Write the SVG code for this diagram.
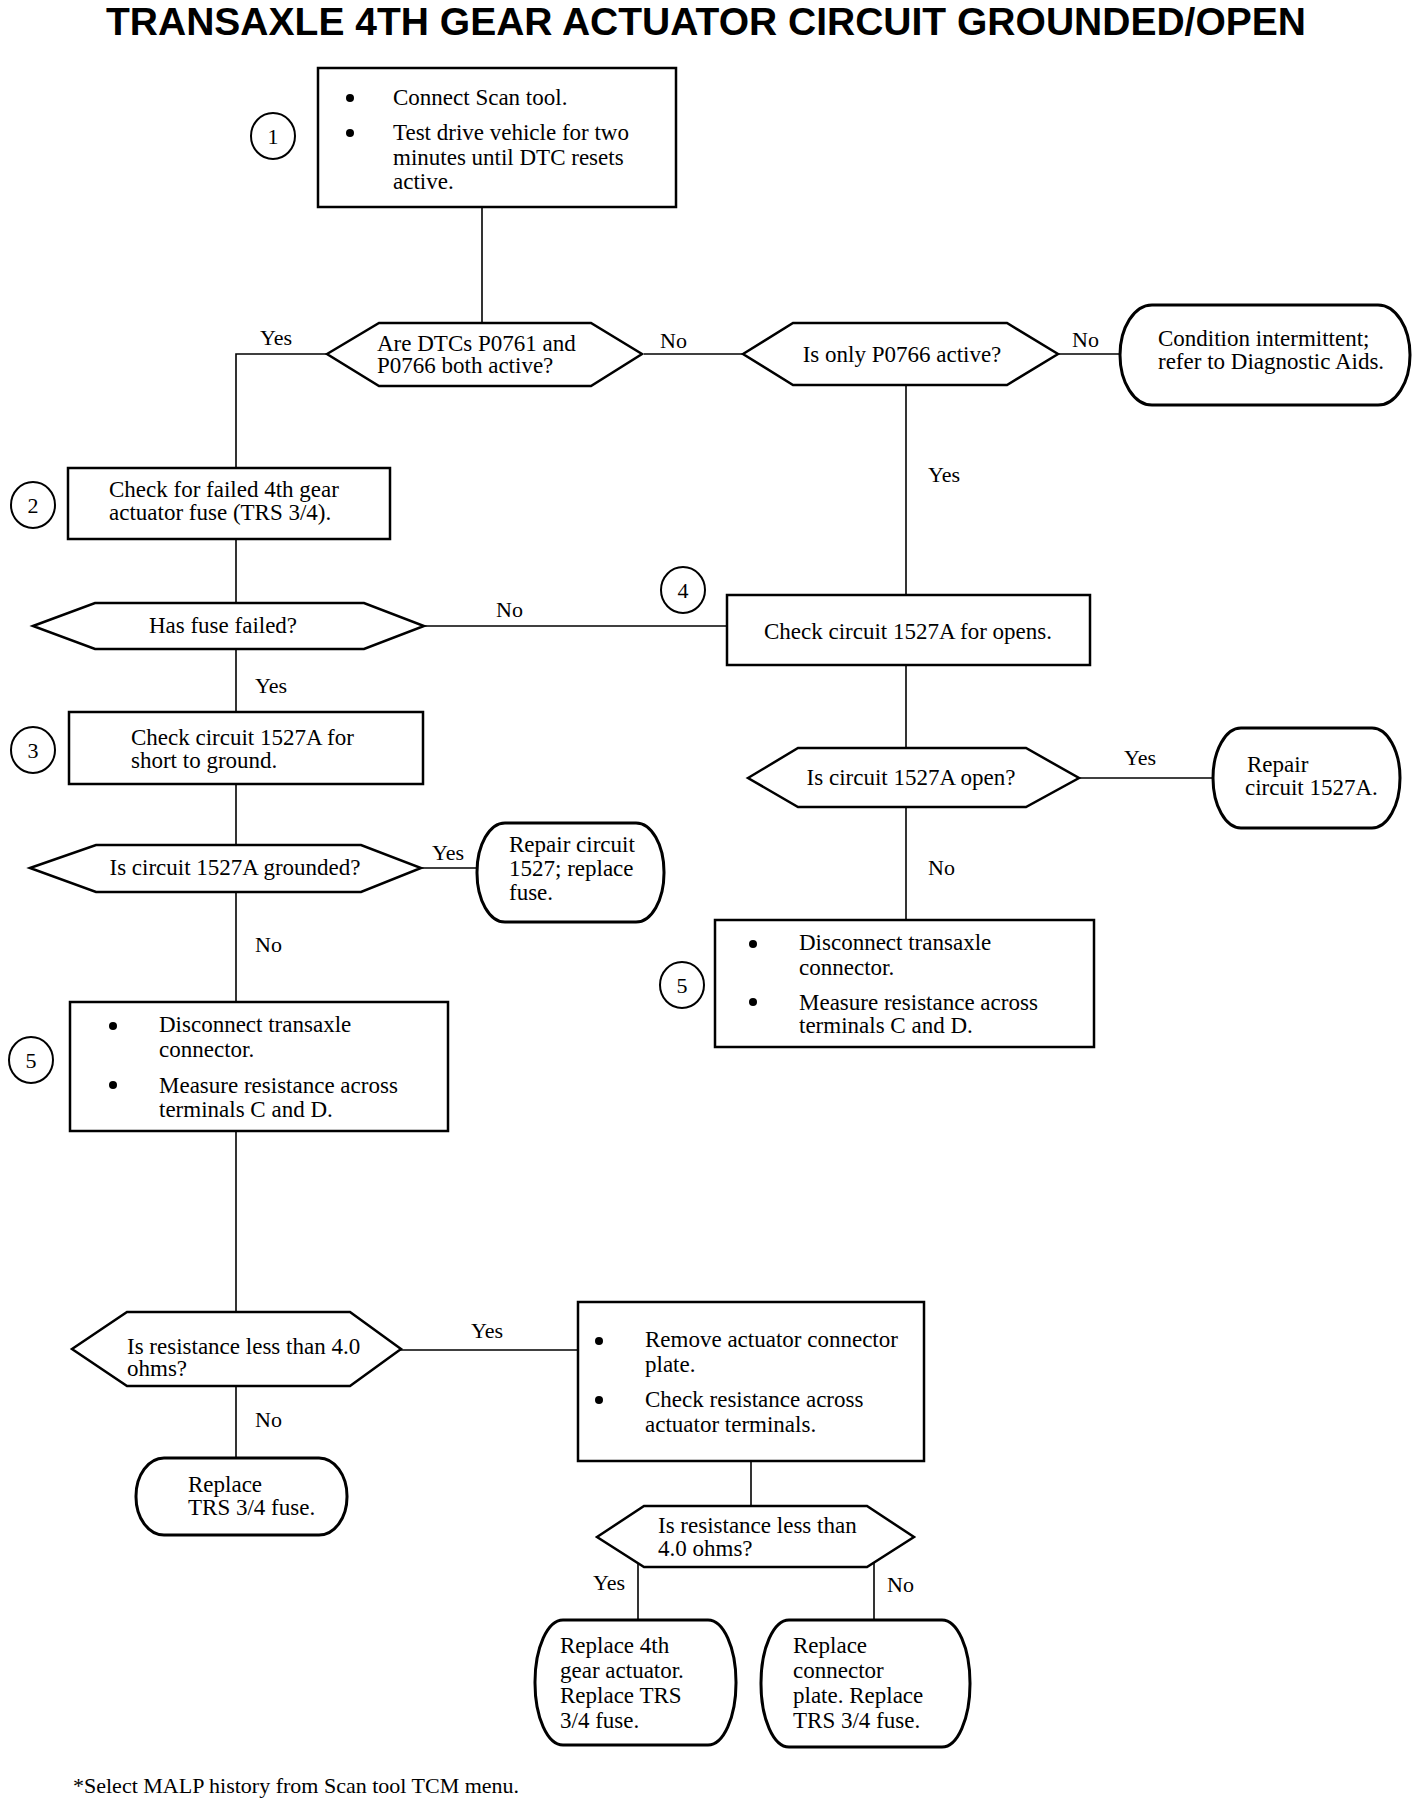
<svg xmlns="http://www.w3.org/2000/svg" width="1424" height="1804" viewBox="0 0 1424 1804">
<style>
.t{font-family:"Liberation Serif","Times New Roman",serif;font-size:23px;fill:#000}
.l{font-family:"Liberation Serif","Times New Roman",serif;font-size:22px;fill:#000}
.c{text-anchor:middle}
.box{fill:#fff;stroke:#000;stroke-width:2.5}
.term{fill:#fff;stroke:#000;stroke-width:3}
.num{fill:#fff;stroke:#000;stroke-width:2}
.conn{fill:none;stroke:#000;stroke-width:1.6}
.title{font-family:"Liberation Sans",Arial,sans-serif;font-weight:bold;font-size:38px;fill:#000}
</style>
<rect width="1424" height="1804" fill="#fff"/>
<text class="title" x="106" y="35" textLength="1200" lengthAdjust="spacingAndGlyphs">TRANSAXLE 4TH GEAR ACTUATOR CIRCUIT GROUNDED/OPEN</text>

<g id="connectors">
<line class="conn" x1="482" y1="207" x2="482" y2="323"/>
<polyline class="conn" points="327,354 236,354 236,468"/>
<line class="conn" x1="644" y1="354" x2="743" y2="354"/>
<line class="conn" x1="1058" y1="354" x2="1122" y2="354"/>
<line class="conn" x1="906" y1="385" x2="906" y2="595"/>
<line class="conn" x1="236" y1="539" x2="236" y2="603"/>
<line class="conn" x1="425" y1="626" x2="728" y2="626"/>
<line class="conn" x1="236" y1="649" x2="236" y2="712"/>
<line class="conn" x1="236" y1="784" x2="236" y2="845"/>
<line class="conn" x1="422" y1="868" x2="479" y2="868"/>
<line class="conn" x1="906" y1="665" x2="906" y2="748"/>
<line class="conn" x1="1079" y1="778" x2="1213" y2="778"/>
<line class="conn" x1="906" y1="807" x2="906" y2="920"/>
<line class="conn" x1="236" y1="892" x2="236" y2="1002"/>
<line class="conn" x1="236" y1="1131" x2="236" y2="1312"/>
<line class="conn" x1="400" y1="1350" x2="578" y2="1350"/>
<line class="conn" x1="236" y1="1386" x2="236" y2="1458"/>
<line class="conn" x1="751" y1="1461" x2="751" y2="1506"/>
<line class="conn" x1="638" y1="1562" x2="638" y2="1620"/>
<line class="conn" x1="874" y1="1562" x2="874" y2="1620"/>
<text class="l" x="260" y="345">Yes</text>
<text class="l" x="660" y="348">No</text>
<text class="l" x="1072" y="347">No</text>
<text class="l" x="928" y="482">Yes</text>
<text class="l" x="496" y="617">No</text>
<text class="l" x="255" y="693">Yes</text>
<text class="l" x="432" y="860">Yes</text>
<text class="l" x="1124" y="765">Yes</text>
<text class="l" x="928" y="875">No</text>
<text class="l" x="255" y="952">No</text>
<text class="l" x="471" y="1338">Yes</text>
<text class="l" x="255" y="1427">No</text>
<text class="l" x="593" y="1590">Yes</text>
<text class="l" x="887" y="1592">No</text>
</g>

<g id="step1">
<ellipse class="num" cx="273" cy="136" rx="22" ry="23"/>
<text class="l c" x="273" y="144">1</text>
<rect class="box" x="318" y="68" width="358" height="139"/>
<circle cx="350" cy="98" r="4"/>
<circle cx="350" cy="133" r="4"/>
<text class="t" x="393" y="105">Connect Scan tool.</text>
<text class="t" x="393" y="140">Test drive vehicle for two</text>
<text class="t" x="393" y="165">minutes until DTC resets</text>
<text class="t" x="393" y="189">active.</text>
</g>

<g id="q1">
<polygon class="box" points="327,354 379,323 591,323 642,354 591,386 379,386"/>
<text class="t" x="377" y="351">Are DTCs P0761 and</text>
<text class="t" x="377" y="373">P0766 both active?</text>
</g>

<g id="q2">
<polygon class="box" points="743,354 793,323 1007,323 1058,354 1007,385 793,385"/>
<text class="t c" x="902" y="362">Is only P0766 active?</text>
</g>

<g id="end-intermittent">
<rect class="term" x="1120" y="305" width="290" height="100" rx="32" ry="50"/>
<text class="t" x="1158" y="346">Condition intermittent;</text>
<text class="t" x="1158" y="369">refer to Diagnostic Aids.</text>
</g>

<g id="step2">
<ellipse class="num" cx="33" cy="505" rx="22" ry="23"/>
<text class="l c" x="33" y="513">2</text>
<rect class="box" x="68" y="468" width="322" height="71"/>
<text class="t" x="109" y="497">Check for failed 4th gear</text>
<text class="t" x="109" y="520">actuator fuse (TRS 3/4).</text>
</g>

<g id="q3">
<polygon class="box" points="33,626 95,603 364,603 424,626 364,649 95,649"/>
<text class="t c" x="223" y="633">Has fuse failed?</text>
</g>

<g id="step4">
<ellipse class="num" cx="683" cy="590" rx="22" ry="23"/>
<text class="l c" x="683" y="598">4</text>
<rect class="box" x="727" y="595" width="363" height="70"/>
<text class="t c" x="908" y="639">Check circuit 1527A for opens.</text>
</g>

<g id="step3">
<ellipse class="num" cx="33" cy="750" rx="22" ry="23"/>
<text class="l c" x="33" y="758">3</text>
<rect class="box" x="69" y="712" width="354" height="72"/>
<text class="t" x="131" y="745">Check circuit 1527A for</text>
<text class="t" x="131" y="768">short to ground.</text>
</g>

<g id="q5">
<polygon class="box" points="748,778 798,748 1026,748 1079,778 1026,807 798,807"/>
<text class="t c" x="911" y="785">Is circuit 1527A open?</text>
</g>

<g id="end-repair-1527A">
<rect class="term" x="1213" y="728" width="187" height="100" rx="28" ry="50"/>
<text class="t" x="1247" y="772">Repair</text>
<text class="t" x="1245" y="795">circuit 1527A.</text>
</g>

<g id="q6">
<polygon class="box" points="30,868 96,845 361,845 421,868 361,892 96,892"/>
<text class="t c" x="235" y="875">Is circuit 1527A grounded?</text>
</g>

<g id="end-repair-1527">
<rect class="term" x="477" y="823" width="187" height="99" rx="28" ry="49"/>
<text class="t" x="509" y="852">Repair circuit</text>
<text class="t" x="509" y="876">1527; replace</text>
<text class="t" x="509" y="900">fuse.</text>
</g>

<g id="step5-right">
<ellipse class="num" cx="682" cy="985" rx="22" ry="23"/>
<text class="l c" x="682" y="993">5</text>
<rect class="box" x="715" y="920" width="379" height="127"/>
<circle cx="753" cy="944" r="4"/>
<circle cx="753" cy="1002" r="4"/>
<text class="t" x="799" y="950">Disconnect  transaxle</text>
<text class="t" x="799" y="975">connector.</text>
<text class="t" x="799" y="1010">Measure resistance across</text>
<text class="t" x="799" y="1033">terminals C and D.</text>
</g>

<g id="step5-left">
<ellipse class="num" cx="31" cy="1060" rx="22" ry="23"/>
<text class="l c" x="31" y="1068">5</text>
<rect class="box" x="70" y="1002" width="378" height="129"/>
<circle cx="113" cy="1026" r="4"/>
<circle cx="113" cy="1085" r="4"/>
<text class="t" x="159" y="1032">Disconnect transaxle</text>
<text class="t" x="159" y="1057">connector.</text>
<text class="t" x="159" y="1093">Measure resistance across</text>
<text class="t" x="159" y="1117">terminals C and D.</text>
</g>

<g id="q7">
<polygon class="box" points="72,1349 127,1312 350,1312 401,1349 350,1386 127,1386"/>
<text class="t" x="127" y="1354">Is resistance less than 4.0</text>
<text class="t" x="127" y="1376">ohms?</text>
</g>

<g id="step6">
<rect class="box" x="578" y="1302" width="346" height="159"/>
<circle cx="599" cy="1341" r="4"/>
<circle cx="599" cy="1400" r="4"/>
<text class="t" x="645" y="1347">Remove actuator connector</text>
<text class="t" x="645" y="1372">plate.</text>
<text class="t" x="645" y="1407">Check resistance across</text>
<text class="t" x="645" y="1432">actuator terminals.</text>
</g>

<g id="end-replace-fuse">
<rect class="term" x="136" y="1458" width="211" height="77" rx="28" ry="38"/>
<text class="t" x="188" y="1492">Replace</text>
<text class="t" x="188" y="1515">TRS 3/4 fuse.</text>
</g>

<g id="q8">
<polygon class="box" points="597,1537 644,1506 867,1506 914,1537 867,1567 644,1567"/>
<text class="t" x="658" y="1533">Is resistance less than</text>
<text class="t" x="658" y="1556">4.0 ohms?</text>
</g>

<g id="end-replace-actuator">
<rect class="term" x="535" y="1620" width="201" height="125" rx="28" ry="62"/>
<text class="t" x="560" y="1653">Replace 4th</text>
<text class="t" x="560" y="1678">gear actuator.</text>
<text class="t" x="560" y="1703">Replace TRS</text>
<text class="t" x="560" y="1728">3/4 fuse.</text>
</g>

<g id="end-replace-plate">
<rect class="term" x="761" y="1620" width="209" height="127" rx="28" ry="63"/>
<text class="t" x="793" y="1653">Replace</text>
<text class="t" x="793" y="1678">connector</text>
<text class="t" x="793" y="1703">plate. Replace</text>
<text class="t" x="793" y="1728">TRS 3/4 fuse.</text>
</g>

<text class="l" x="73" y="1793">*Select MALP history from Scan tool TCM menu.</text>
</svg>
